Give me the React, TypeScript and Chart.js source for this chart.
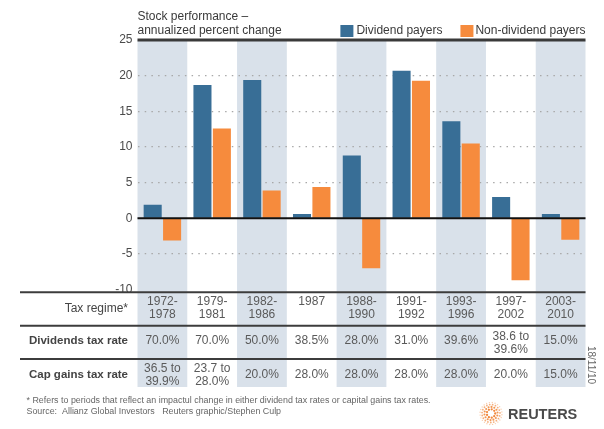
import React, { useEffect, useRef } from 'react';
import { Chart, registerables } from 'chart.js';

Chart.register(...registerables);

// ---------- data ----------
const taxRegimes = ['1972-\n1978', '1979-\n1981', '1982-\n1986', '1987', '1988-\n1990', '1991-\n1992', '1993-\n1996', '1997-\n2002', '2003-\n2010'];
const dividendPayers = [1.9, 18.7, 19.4, 0.6, 8.8, 20.7, 13.6, 3.0, 0.6];
const nonDividendPayers = [-3.1, 12.6, 3.9, 4.4, -7.0, 19.3, 10.5, -8.7, -3.0];
const dividendsTaxRate = ['70.0%', '70.0%', '50.0%', '38.5%', '28.0%', '31.0%', '39.6%', '38.6 to\n39.6%', '15.0%'];
const capGainsTaxRate = ['36.5 to\n39.9%', '23.7 to\n28.0%', '20.0%', '28.0%', '28.0%', '28.0%', '28.0%', '20.0%', '15.0%'];
const shadedColumns = [0, 2, 4, 6, 8];
const yMin = -10;
const yMax = 25;
const yStep = 5;

const titleLines = ['Stock performance \u2013', 'annualized percent change'];
const seriesNames = ['Dividend payers', 'Non-dividend payers'];
const rowLabels = ['Tax regime*', 'Dividends tax rate', 'Cap gains tax rate'];
const footnote = '* Refers to periods that reflect an impactul change in either dividend tax rates or capital gains tax rates.';
const sourceLine = 'Source:  Allianz Global Investors   Reuters graphic/Stephen Culp';
const dateStamp = '18/11/10';

// ---------- style ----------
const FONT = '"Liberation Sans", Arial, Helvetica, sans-serif';
const BLUE = '#386e96';
const ORANGE = '#f68b3d';
const BAND = '#d9e1ea';
const W = 604;
const H = 429;

export default function App() {
  const ref = useRef<HTMLCanvasElement>(null);

  useEffect(() => {
    const canvas = ref.current;
    if (!canvas) return;

    const overlay = {
      id: 'overlay',
      beforeDraw(chart: any) {
        const ctx = chart.ctx;
        const xs = chart.scales.x;
        const area = chart.chartArea;
        const colW = (area.right - area.left) / taxRegimes.length;
        ctx.save();
        ctx.fillStyle = BAND;
        shadedColumns.forEach((i) => {
          const cx = xs.getPixelForValue(i);
          ctx.fillRect(cx - colW / 2, area.top, colW, 387 - area.top);
        });
        ctx.restore();
      },
      afterDatasetsDraw(chart: any) {
        const ctx = chart.ctx;
        const ys = chart.scales.y;
        const area = chart.chartArea;
        ctx.save();
        ctx.strokeStyle = '#3a3a3a';
        ctx.lineWidth = 3;
        ctx.beginPath();
        ctx.moveTo(area.left, ys.getPixelForValue(yMax));
        ctx.lineTo(area.right, ys.getPixelForValue(yMax));
        ctx.stroke();
        ctx.strokeStyle = '#111';
        ctx.lineWidth = 2;
        ctx.beginPath();
        ctx.moveTo(area.left, ys.getPixelForValue(0));
        ctx.lineTo(area.right, ys.getPixelForValue(0));
        ctx.stroke();
        ctx.strokeStyle = '#3c3c3c';
        ctx.lineWidth = 2;
        [292.3, 325.7, 359].forEach((y) => {
          ctx.beginPath();
          ctx.moveTo(20, y);
          ctx.lineTo(area.right, y);
          ctx.stroke();
        });
        ctx.restore();
      },
      afterDraw(chart: any) {
        const ctx = chart.ctx;
        const xs = chart.scales.x;
        const area = chart.chartArea;
        ctx.save();
        ctx.textBaseline = 'middle';

        ctx.fillStyle = '#3a3a3a';
        ctx.font = `12px ${FONT}`;
        ctx.textAlign = 'left';
        ctx.fillText(titleLines[0], area.left, 16.5);
        ctx.fillText(titleLines[1], area.left, 30.5);

        const w2 = ctx.measureText(seriesNames[1]).width;
        const w1 = ctx.measureText(seriesNames[0]).width;
        const t2x = area.right - w2;
        const s2x = t2x - 15;
        const t1x = s2x - 18 - w1;
        const s1x = t1x - 16;
        ctx.fillStyle = BLUE;
        ctx.fillRect(s1x, 25, 13, 12);
        ctx.fillStyle = ORANGE;
        ctx.fillRect(s2x, 25, 13, 12);
        ctx.fillStyle = '#3a3a3a';
        ctx.fillText(seriesNames[0], t1x, 31);
        ctx.fillText(seriesNames[1], t2x, 31);

        ctx.textAlign = 'right';
        ctx.fillStyle = '#444';
        ctx.font = `12px ${FONT}`;
        ctx.fillText(rowLabels[0], 128, 309);
        ctx.font = `bold 11.5px ${FONT}`;
        ctx.fillText(rowLabels[1], 128, 341);
        ctx.fillText(rowLabels[2], 128, 375);

        ctx.textAlign = 'center';
        ctx.fillStyle = '#5a5a5a';
        ctx.font = `12px ${FONT}`;
        const drawCell = (txt: string, cx: number, singleY: number, twoY: number) => {
          const parts = txt.split('\n');
          if (parts.length === 1) {
            ctx.fillText(parts[0], cx, singleY);
          } else {
            ctx.fillText(parts[0], cx, twoY);
            ctx.fillText(parts[1], cx, twoY + 13.2);
          }
        };
        taxRegimes.forEach((t, i) => {
          const cx = xs.getPixelForValue(i);
          drawCell(t, cx, 301.7, 301.7);
          drawCell(dividendsTaxRate[i], cx, 341, 336.7);
          drawCell(capGainsTaxRate[i], cx, 374.5, 368.2);
        });

        ctx.textAlign = 'left';
        ctx.fillStyle = '#666';
        ctx.font = `8.9px ${FONT}`;
        ctx.fillText(footnote, 26.5, 400.7);
        ctx.fillText(sourceLine, 26.5, 411.7);

        ctx.save();
        ctx.translate(591, 365);
        ctx.rotate(Math.PI / 2);
        ctx.textAlign = 'center';
        ctx.fillStyle = '#666';
        ctx.font = `10px ${FONT}`;
        ctx.fillText(dateStamp, 0, 0);
        ctx.restore();

        const lx = 491;
        const ly = 413.5;
        const rings = [
          { r: 4.2, n: 9, d: 1.15, a: 0.95 },
          { r: 6.6, n: 14, d: 1.05, a: 0.85 },
          { r: 9.0, n: 19, d: 0.9, a: 0.65 },
          { r: 11.0, n: 24, d: 0.7, a: 0.4 },
        ];
        rings.forEach((ring, k) => {
          for (let j = 0; j < ring.n; j++) {
            const ang = (j / ring.n) * Math.PI * 2 + k * 0.3;
            ctx.beginPath();
            ctx.fillStyle = `rgba(240,130,50,${ring.a})`;
            ctx.arc(lx + Math.cos(ang) * ring.r, ly + Math.sin(ang) * ring.r, ring.d, 0, Math.PI * 2);
            ctx.fill();
          }
        });
        ctx.fillStyle = '#4a4a4a';
        ctx.font = `bold 14.5px ${FONT}`;
        ctx.textAlign = 'left';
        ctx.fillText('REUTERS', 508, 415);

        ctx.restore();
      },
    };

    const chart = new Chart(canvas, {
      type: 'bar',
      data: {
        labels: taxRegimes,
        datasets: [
          {
            label: seriesNames[0],
            data: dividendPayers,
            backgroundColor: BLUE,
            borderWidth: 0,
            categoryPercentage: 0.78,
            barPercentage: 0.93,
          },
          {
            label: seriesNames[1],
            data: nonDividendPayers,
            backgroundColor: ORANGE,
            borderWidth: 0,
            categoryPercentage: 0.78,
            barPercentage: 0.93,
          },
        ],
      },
      options: {
        responsive: false,
        maintainAspectRatio: false,
        animation: false,
        devicePixelRatio: 1,
        layout: { padding: { left: 0, right: 18.5, top: 40, bottom: H - 289.6 } },
        plugins: {
          legend: { display: false },
          tooltip: { enabled: false },
          title: { display: false },
        },
        scales: {
          x: {
            display: false,
            offset: true,
            grid: { display: false },
          },
          y: {
            min: yMin,
            max: yMax,
            ticks: {
              stepSize: yStep,
              padding: 5,
              color: '#4a4a4a',
              font: { family: FONT, size: 12 },
            },
            grid: {
              drawTicks: false,
              lineWidth: 1.3,
              color: (c: any) => {
                const v = c.tick ? c.tick.value : null;
                return v === yMax || v === 0 || v === yMin ? 'rgba(0,0,0,0)' : '#a8a8a8';
              },
            },
            border: { display: false, dash: [1.5, 5.2] },
            afterFit: (s: any) => {
              s.width = 137.5;
            },
          },
        },
      },
      plugins: [overlay],
    } as any);

    return () => chart.destroy();
  }, []);

  return (
    <div style={{ position: 'fixed', left: 0, top: 0, width: W, height: H, background: '#fff' }}>
      <canvas ref={ref} width={W} height={H} style={{ width: W, height: H, display: 'block' }} />
    </div>
  );
}
